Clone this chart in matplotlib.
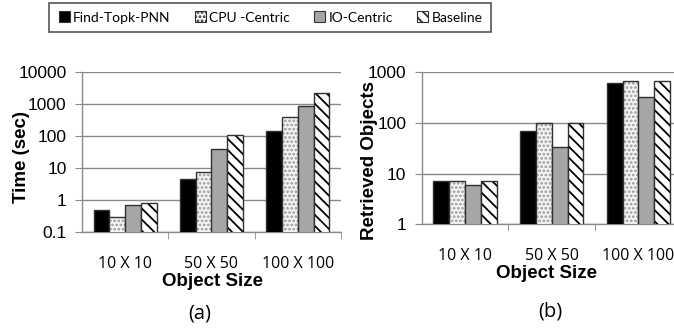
import numpy as np
import matplotlib
matplotlib.use("Agg")
import matplotlib.pyplot as plt
from matplotlib.patches import Patch, Rectangle

sizes = ["10 X 10", "50 X 50", "100 X 100"]
methods = ["Find-Topk-PNN", "CPU -Centric", "IO-Centric", "Baseline"]

# (a) running time in seconds
time_topk = [0.5, 4.4, 147]
time_cpu = [0.3, 7.4, 380]
time_io = [0.68, 38, 870]
time_base = [0.78, 107, 2200]

# (b) number of retrieved objects
objs_topk = [7, 71, 620]
objs_cpu = [7, 102, 680]
objs_io = [6, 33, 320]
objs_base = [7, 102, 680]

# face, hatch, hatch colour for each method
faces = ["black", "#f4f4f4", "#a6a6a6", "white"]
hatches = [None, "....", None, "\\\\\\"]
hatch_cols = ["black", "#9a9a9a", "#a6a6a6", "black"]
edge = "#303030"
grid_col = "#8a8a8a"

W, H = 674, 329
plt.rcParams["hatch.linewidth"] = 1.3
fig = plt.figure(figsize=(W / 100, H / 100), dpi=100)

def px(x0, y0, x1, y1):
    return [x0 / W, 1 - y1 / H, (x1 - x0) / W, (y1 - y0) / H]

ax1 = fig.add_axes(px(82, 72, 341, 232))
ax2 = fig.add_axes(px(421.7, 72.3, 681.7, 224.3))

bw = 0.183
x = np.arange(len(sizes))

def draw(ax, series, ylim, yticks, ylabels):
    for i, vals in enumerate(series):
        pos = x + (i - 1.5) * bw
        if hatches[i]:
            ax.bar(pos, vals, bw, color=faces[i], hatch=hatches[i],
                   edgecolor=hatch_cols[i], linewidth=0, zorder=3)
        ax.bar(pos, vals, bw, fill=(hatches[i] is None), facecolor=faces[i],
               edgecolor=edge, linewidth=1.0, zorder=3)
    ax.set_yscale("log")
    ax.set_ylim(*ylim)
    ax.set_xlim(-0.5, 2.5)
    ax.set_yticks(yticks)
    ax.set_yticklabels(ylabels, family="Liberation Sans", fontsize=12.5)
    ax.yaxis.set_minor_locator(matplotlib.ticker.NullLocator())
    ax.set_xticks(x)
    ax.set_xticklabels(sizes, family="Open Sans", fontsize=11.5)
    ax.set_xticks([0.5, 1.5, 2.5], minor=True)
    ax.tick_params(axis="x", which="major", length=0, pad=17)
    ax.tick_params(axis="x", which="minor", length=5, color=grid_col, direction="out")
    ax.tick_params(axis="y", length=5, color=grid_col, direction="out", pad=6)
    ax.grid(axis="y", color=grid_col, linewidth=1, zorder=0)
    for s in ["top", "right"]:
        ax.spines[s].set_visible(False)
    for s in ["left", "bottom"]:
        ax.spines[s].set_color(grid_col)
        ax.spines[s].set_linewidth(1)

draw(ax1, [time_topk, time_cpu, time_io, time_base], (0.1, 10000),
     [0.1, 1, 10, 100, 1000, 10000], ["0.1", "1", "10", "100", "1000", "10000"])
draw(ax2, [objs_topk, objs_cpu, objs_io, objs_base], (1, 1000),
     [1, 10, 100, 1000], ["1", "10", "100", "1000"])

lab = dict(family="Liberation Sans", fontweight="bold", fontsize=13.5)
fig.text(21.7 / W, 1 - 156.7 / H, "Time (sec)", rotation=90, ha="center", va="center", **lab)
fig.text(370 / W, 1 - 160 / H, "Retrieved Objects", rotation=90, ha="center", va="center", **lab)
fig.text(213 / W, 1 - 281.7 / H, "Object Size", ha="center", va="center", **lab)
fig.text(546.7 / W, 1 - 273 / H, "Object Size", ha="center", va="center", **lab)
fig.text(200 / W, 1 - 313 / H, "(a)", ha="center", va="center", family="Open Sans", fontsize=14.5)
fig.text(550 / W, 1 - 312 / H, "(b)", ha="center", va="center", family="Open Sans", fontsize=14.5)

# legend box drawn by hand so its padding can match the reference
fig.patches.append(Rectangle((49 / W, 1 - 32 / H), 442 / W, 29 / H, transform=fig.transFigure,
                             facecolor="white", edgecolor="#555555", linewidth=1.2))
handles = [Patch(facecolor=faces[i], hatch=hatches[i], edgecolor="#303030", linewidth=0.8)
           for i in range(len(methods))]
leg = fig.legend(handles, methods, loc="center", bbox_to_anchor=(270.5 / W, 1 - 17.5 / H),
                 ncol=4, frameon=False, prop={"family": "Lato", "size": 10},
                 handlelength=0.8, handleheight=0.8, handletextpad=0.23, columnspacing=1.75,
                 borderpad=0, borderaxespad=0)

fig.savefig("out.png", dpi=100)
